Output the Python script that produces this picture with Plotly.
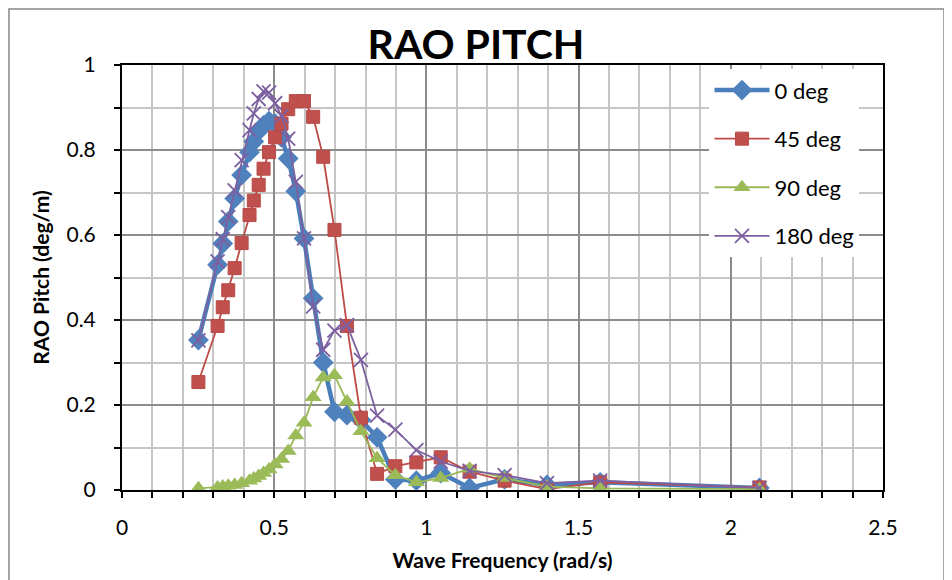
import plotly.graph_objects as go

# Wave frequencies (rad/s)
freq = [0.251, 0.314, 0.331, 0.349, 0.370, 0.393, 0.419, 0.433, 0.449, 0.465,
        0.483, 0.503, 0.524, 0.546, 0.571, 0.598, 0.628, 0.661, 0.698, 0.739,
        0.785, 0.838, 0.898, 0.967, 1.047, 1.142, 1.257, 1.396, 1.571, 2.094]

rao_0 = [0.353, 0.530, 0.580, 0.632, 0.686, 0.741, 0.795, 0.820, 0.845, 0.858,
         0.868, 0.862, 0.830, 0.780, 0.703, 0.592, 0.451, 0.300, 0.184, 0.176,
         0.165, 0.124, 0.025, 0.022, 0.040, 0.005, 0.025, 0.012, 0.018, 0.005]

rao_45 = [0.254, 0.386, 0.430, 0.470, 0.522, 0.581, 0.647, 0.681, 0.718, 0.756,
          0.795, 0.830, 0.862, 0.896, 0.915, 0.915, 0.878, 0.784, 0.612, 0.386,
          0.170, 0.038, 0.056, 0.065, 0.077, 0.043, 0.022, 0.002, 0.018, 0.006]

rao_90 = [0.004, 0.006, 0.008, 0.010, 0.012, 0.016, 0.022, 0.027, 0.033, 0.040,
          0.048, 0.060, 0.073, 0.092, 0.128, 0.158, 0.218, 0.265, 0.270, 0.208,
          0.138, 0.075, 0.035, 0.018, 0.028, 0.050, 0.028, 0.008, 0.004, 0.002]

rao_180 = [0.352, 0.538, 0.590, 0.642, 0.705, 0.776, 0.847, 0.886, 0.920, 0.938,
           0.935, 0.910, 0.880, 0.827, 0.725, 0.592, 0.432, 0.330, 0.375, 0.388,
           0.306, 0.175, 0.142, 0.094, 0.067, 0.045, 0.035, 0.016, 0.022, 0.005]

series_names = ["0 deg", "45 deg", "90 deg", "180 deg"]
x_ticks = [0, 0.5, 1, 1.5, 2, 2.5]
y_ticks = [0, 0.2, 0.4, 0.6, 0.8, 1]

FONT = "Lato, Arial, sans-serif"

fig = go.Figure()
fig.add_trace(go.Scatter(x=freq, y=rao_0, name=series_names[0], mode="lines+markers",
                         line=dict(color="#4a7ebb", width=4.5),
                         marker=dict(symbol="diamond", size=16, color="#4f81bd"),
                         legendgroup="a"))
fig.add_trace(go.Scatter(x=freq, y=rao_45, name=series_names[1], mode="lines+markers",
                         line=dict(color="#be4b48", width=1.8),
                         marker=dict(symbol="square", size=13, color="#c0504d",
                                     line=dict(color="#b84a47", width=1)),
                         legendgroup="b"))
fig.add_trace(go.Scatter(x=freq, y=rao_90, name=series_names[2], mode="lines+markers",
                         line=dict(color="#98b954", width=1.8),
                         marker=dict(symbol="triangle-up", size=15, color="#9bbb59"),
                         legendgroup="c"))
fig.add_trace(go.Scatter(x=freq, y=rao_180, name=series_names[3], mode="lines+markers",
                         line=dict(color="#7d60a0", width=1.8),
                         marker=dict(symbol="x-thin", size=14,
                                     line=dict(color="#7d60a0", width=1.8)),
                         legendgroup="d"))

axis_common = dict(showline=True, linecolor="black", linewidth=2, mirror=True,
                   ticks="outside", ticklen=6, tickcolor="black", tickwidth=1.5,
                   showgrid=True, gridcolor="#8c8c8c", gridwidth=2, zeroline=False,
                   automargin=False,
                   tickfont=dict(family=FONT, size=21, color="black"))

fig.update_xaxes(range=[0, 2.5], tickvals=x_ticks, ticktext=[str(v) for v in x_ticks],
                 minor=dict(dtick=0.1, showgrid=True, gridcolor="#c6c6c6", gridwidth=2,
                            ticks="outside", ticklen=6, tickcolor="black"),
                 ticklabelstandoff=12,
                 title=dict(text="<b>Wave Frequency (rad/s)</b>",
                            font=dict(family=FONT, size=21, color="black"), standoff=15),
                 **axis_common)
fig.update_yaxes(range=[0, 1], tickvals=y_ticks, ticktext=["0", "0.2", "0.4", "0.6", "0.8", "1"],
                 minor=dict(dtick=0.1, showgrid=True, gridcolor="#c6c6c6", gridwidth=2,
                            ticks="outside", ticklen=6, tickcolor="black"),
                 ticklabelstandoff=14,
                 title=dict(text="<b>RAO Pitch (deg/m)</b>",
                            font=dict(family=FONT, size=21, color="black"), standoff=11),
                 **axis_common)

fig.update_layout(
    width=952, height=580,
    margin=dict(l=114, r=77, t=57, b=98, autoexpand=False),
    paper_bgcolor="white", plot_bgcolor="white",
    title=dict(text="<b>RAO PITCH</b>", x=(476 - 8) / 952, xref="container", xanchor="center",
               y=1 - 37 / 580, yref="container", yanchor="middle", automargin=False,
               font=dict(family=FONT, size=41, color="black")),
    legend=dict(x=0.772, y=0.99, xanchor="left", yanchor="top",
                bgcolor="white", borderwidth=0, tracegroupgap=17, itemwidth=55,
                font=dict(family=FONT, size=22, color="black")),
    shapes=[dict(type="rect", xref="paper", yref="paper",
                 x0=-0.1485, x1=1.0802, y0=-0.3, y1=1.132,
                 line=dict(color="#868686", width=1.5), layer="below")],
)

fig.write_html("out.html")
